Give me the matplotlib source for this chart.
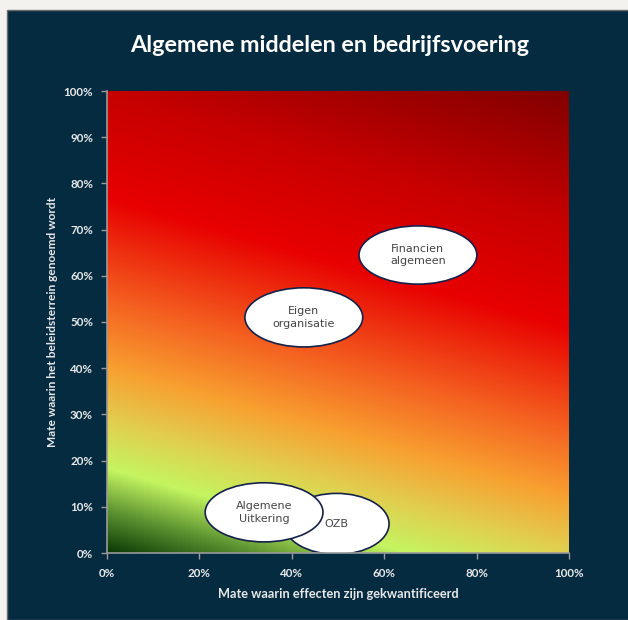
import numpy as np
import matplotlib
matplotlib.use("Agg")
from matplotlib import pyplot as plt
from matplotlib.colors import LinearSegmentedColormap
from matplotlib.patches import Ellipse, Rectangle
from matplotlib.ticker import PercentFormatter

# items: (label, x = mate gekwantificeerd, y = mate genoemd)
labels = ["OZB", "Algemene\nUitkering", "Eigen\norganisatie", "Financien\nalgemeen"]
x_vals = [0.497, 0.340, 0.426, 0.673]
y_vals = [0.063, 0.088, 0.510, 0.645]

x_ticks = [0, 0.2, 0.4, 0.6, 0.8, 1.0]
y_ticks = np.arange(0, 1.01, 0.1)

title = "Algemene middelen en bedrijfsvoering"
xlabel = "Mate waarin effecten zijn gekwantificeerd"
ylabel = "Mate waarin het beleidsterrein genoemd wordt"

navy = "#052b41"
fig = plt.figure(figsize=(6.28, 6.20), dpi=100)
fig.patch.set_facecolor("#f3f2ee")

# dark panel behind everything
fig.patches.append(Rectangle((7 / 628, 0), 1, 1 - 10 / 620, transform=fig.transFigure,
                             facecolor=navy, edgecolor="#6b6b6b", lw=1.0, zorder=-10))

ax = fig.add_axes([107 / 628, 1 - 553 / 620, 462 / 628, 462 / 620])
ax.set_facecolor(navy)

# diagonal background gradient: green (low/low) -> red (high/high)
stops = [(0.00, "#0d3a06"), (0.09, "#5e9432"), (0.18, "#c4f560"), (0.28, "#e0d050"),
         (0.40, "#f8a030"), (0.55, "#f46020"), (0.77, "#e80000"), (1.00, "#c60000"),
         (1.28, "#820000")]
smax = stops[-1][0]
cmap = LinearSegmentedColormap.from_list("risk", [(p / smax, c) for p, c in stops])
gx, gy = np.meshgrid(np.linspace(0, 1, 400), np.linspace(0, 1, 400))
ax.imshow(gy + 0.28 * gx, cmap=cmap, vmin=0, vmax=smax, origin="lower",
          extent=[0, 1, 0, 1], aspect="auto", interpolation="bilinear", zorder=1)

widths = [0.227, 0.255, 0.255, 0.255]
heights = [0.132, 0.128, 0.128, 0.126]
for lab, x, y, w, h in zip(labels, x_vals, y_vals, widths, heights):
    ax.add_patch(Ellipse((x, y), w, h, facecolor="white", edgecolor="#14214a",
                         lw=1.2, zorder=3))
    ax.text(x, y, lab, ha="center", va="center", fontsize=8, color="#444444",
            family="DejaVu Sans", linespacing=1.3, zorder=4)

ax.set_xlim(0, 1)
ax.set_ylim(0, 1)
ax.set_xticks(x_ticks)
ax.set_yticks(y_ticks)
ax.xaxis.set_major_formatter(PercentFormatter(1.0, decimals=0))
ax.yaxis.set_major_formatter(PercentFormatter(1.0, decimals=0))

for side in ["top", "right"]:
    ax.spines[side].set_visible(False)
for side in ["left", "bottom"]:
    ax.spines[side].set_color("#9a9a9a")
    ax.spines[side].set_linewidth(1.2)
    ax.spines[side].set_zorder(5)

ax.tick_params(colors="#9a9a9a", length=4, width=1, labelcolor="#e8e8e8")
for lbl in ax.get_xticklabels() + ax.get_yticklabels():
    lbl.set_family("Lato")
    lbl.set_fontweight("bold")
    lbl.set_fontsize(8.4)
ax.tick_params(axis="x", pad=7)
ax.tick_params(axis="y", pad=6)

ax.set_xlabel(xlabel, family="Lato", fontweight="bold", fontsize=9.2, color="#e8e8e8", labelpad=6)
ax.set_ylabel(ylabel, family="Lato", fontweight="bold", fontsize=8.6, color="#e8e8e8", labelpad=4)

fig.text(330 / 628, 1 - 45 / 620, title, ha="center", va="center", family="Lato",
         fontweight="bold", fontsize=16.8, color="white")

fig.savefig("out.png", dpi=100, facecolor=fig.get_facecolor())
